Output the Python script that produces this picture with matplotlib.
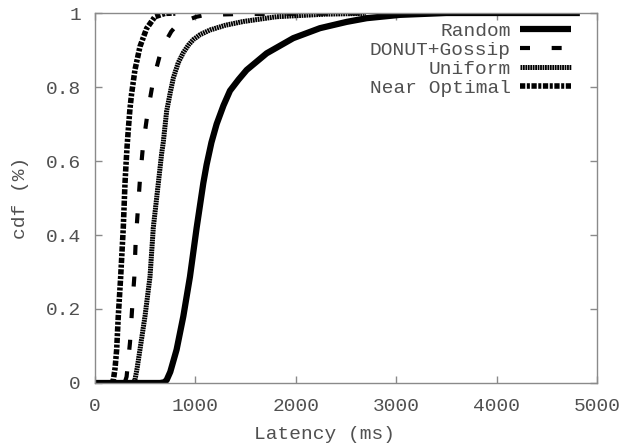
import matplotlib
matplotlib.use("Agg")
import matplotlib.pyplot as plt

# CDF of latency (ms) for each scheme
random_x = [0, 650, 690, 714, 750, 813, 880, 946, 1013, 1079, 1112, 1160, 1212, 1280,
            1345, 1430, 1511, 1710, 1975, 2241, 2507, 2706, 3038, 3500, 4830]
random_y = [0, 0, 0.002, 0.008, 0.03, 0.09, 0.18, 0.287, 0.42, 0.54, 0.59, 0.65, 0.70, 0.75,
            0.79, 0.82, 0.846, 0.891, 0.932, 0.959, 0.976, 0.986, 0.995, 1.0, 1.0]

donut_x = [0, 295, 315, 349, 372, 392, 405, 425, 448, 478, 524, 581, 664,
           760, 830, 1013, 1100, 1400, 2000, 2800]
donut_y = [0, 0, 0.017, 0.11, 0.21, 0.287, 0.38, 0.46, 0.55, 0.64, 0.73, 0.819, 0.904,
           0.95, 0.972, 0.99, 0.995, 0.997, 0.998, 0.999]

uniform_x = [0, 370, 385, 398, 420, 448, 498, 548, 581, 631, 664, 680, 714,
             750, 781, 830, 880, 930, 979, 1050, 1145, 1300, 1477, 1809, 2307, 2700]
uniform_y = [0, 0, 0.002, 0.008, 0.04, 0.09, 0.18, 0.287, 0.42, 0.54, 0.62, 0.65, 0.735,
             0.785, 0.825, 0.866, 0.893, 0.913, 0.928, 0.942, 0.954, 0.967, 0.977, 0.99,
             0.997, 0.999]

nearopt_x = [0, 165, 183, 200, 216, 232, 256, 282, 299, 309, 320, 332, 348, 364, 398,
             448, 514, 597, 697, 800]
nearopt_y = [0, 0, 0.008, 0.04, 0.09, 0.18, 0.287, 0.42, 0.54, 0.59, 0.64, 0.685, 0.74,
             0.78, 0.846, 0.909, 0.958, 0.99, 0.999, 1.0]

x_ticks = [0, 1000, 2000, 3000, 4000, 5000]
y_ticks = [0, 0.2, 0.4, 0.6, 0.8, 1]
y_tick_labels = ["0", "0.2", "0.4", "0.6", "0.8", "1"]

text_color = "#505050"
frame_color = "#8a8a8a"
plt.rcParams["font.family"] = ["Liberation Mono", "DejaVu Sans Mono"]

fig = plt.figure(figsize=(6.29, 4.44), dpi=100)
ax = fig.add_axes([0.151, 0.1374, 0.798, 0.8333])

ax.plot(random_x, random_y, color="black", lw=4.5, solid_capstyle="butt",
        solid_joinstyle="round", label="Random")
ax.plot(donut_x, donut_y, color="black", lw=3, dashes=(2.4, 5.2), dash_capstyle="butt",
        label="DONUT+Gossip")
ax.plot(uniform_x, uniform_y, color="black", lw=3.6, dashes=(0.36, 0.13),
        dash_capstyle="butt", label="Uniform")
ax.plot(nearopt_x, nearopt_y, color="black", lw=4, dashes=(0.95, 0.28, 0.55, 0.28),
        dash_capstyle="butt", label="Near Optimal")

ax.set_xlim(0, 5000)
ax.set_ylim(0, 1)
ax.set_xticks(x_ticks)
ax.set_yticks(y_ticks)
ax.set_yticklabels(y_tick_labels)
ax.tick_params(direction="in", length=5, width=1, color=frame_color, top=True, right=True,
               labelsize=14, labelcolor=text_color)
ax.tick_params(axis="x", pad=11)
ax.tick_params(axis="y", pad=10)
for s in ax.spines.values():
    s.set_color(frame_color)
    s.set_linewidth(1)

ax.set_xlabel("Latency (ms)", fontsize=14, color=text_color, labelpad=8)
ax.xaxis.set_label_coords(0.458, -0.115)
ax.set_ylabel("cdf (%)", fontsize=14, color=text_color, labelpad=12)

leg = ax.legend(loc="upper right", bbox_to_anchor=(0.948, 0.974), frameon=False,
                markerfirst=False, fontsize=14, handlelength=2.6, handletextpad=0.5,
                labelspacing=0.07, borderpad=0, borderaxespad=0)
for t in leg.get_texts():
    t.set_color(text_color)

fig.savefig("out.png", dpi=100)
